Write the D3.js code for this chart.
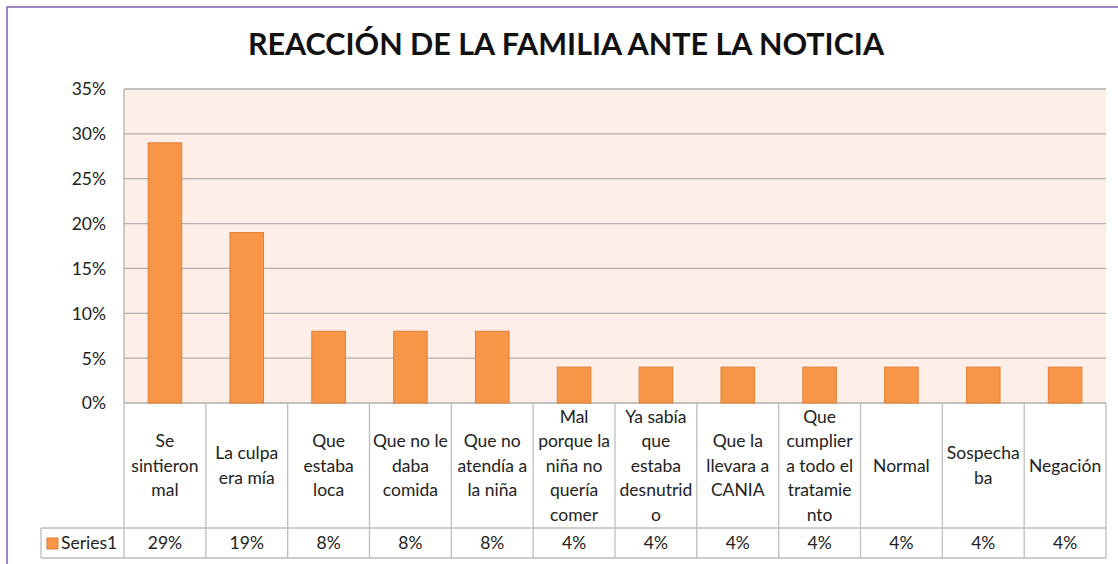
<!DOCTYPE html>
<html><head><meta charset="utf-8">
<script src="https://cdn.jsdelivr.net/npm/d3@7"></script>
<style>body{margin:0;background:#fff}svg{display:block}text{font-family:Lato,"Open Sans",sans-serif}</style>
</head><body><svg id="c" width="1118" height="564"></svg>
<script>
const title = "REACCIÓN DE LA FAMILIA ANTE LA NOTICIA";
const seriesName = "Series1";
const categories = [
  ["Se","sintieron","mal"],
  ["La culpa","era mía"],
  ["Que","estaba","loca"],
  ["Que no le","daba","comida"],
  ["Que no","atendía a","la niña"],
  ["Mal","porque la","niña no","quería","comer"],
  ["Ya sabía","que","estaba","desnutrid","o"],
  ["Que la","llevara a","CANIA"],
  ["Que","cumplier","a todo el","tratamie","nto"],
  ["Normal"],
  ["Sospecha","ba"],
  ["Negación"]
];
const values = [0.29, 0.19, 0.08, 0.08, 0.08, 0.04, 0.04, 0.04, 0.04, 0.04, 0.04, 0.04];
const valueLabels = ["29%","19%","8%","8%","8%","4%","4%","4%","4%","4%","4%","4%"];
const yTicks = [0, 0.05, 0.10, 0.15, 0.20, 0.25, 0.30, 0.35];

const svg = d3.select("#c");
const L = 124, R = 1106, T = 89, B = 403;
const catBottom = 528, valBottom = 558, legLeft = 41;
const fs = 17.5;

svg.append("rect").attr("x",7).attr("y",7).attr("width",1125).attr("height",600)
  .attr("fill","none").attr("stroke","#7F62A8").attr("stroke-width",1.5);

svg.append("text").attr("x",566).attr("y",55).attr("text-anchor","middle")
  .attr("font-size",30.5).attr("font-weight",700).attr("fill","#111").text(title);

const x = d3.scaleBand().domain(d3.range(categories.length)).range([L,R]).paddingInner(0.59).paddingOuter(0.295);
const xc = d3.scaleBand().domain(d3.range(categories.length)).range([L,R]);
const y = d3.scaleLinear().domain([0,0.35]).range([B,T]);

svg.append("rect").attr("x",L).attr("y",T).attr("width",R-L).attr("height",B-T).attr("fill","#FDEEE8");

const yAxis = d3.axisLeft(y).tickValues(yTicks).tickFormat(d3.format(".0%")).tickSize(0).tickPadding(18);
const ga = svg.append("g").attr("transform",`translate(${L},0)`).call(yAxis);
ga.select(".domain").remove();
ga.selectAll("text").attr("font-size",fs).attr("fill","#222").attr("font-family","Lato, sans-serif").attr("dy","0.34em");

svg.append("g").selectAll("line").data(yTicks).join("line")
  .attr("x1",L).attr("x2",R).attr("y1",d=>y(d)).attr("y2",d=>y(d))
  .attr("stroke","#AFAFAF").attr("stroke-width",1.3);
svg.append("line").attr("x1",L).attr("x2",L).attr("y1",T).attr("y2",B).attr("stroke","#AFAFAF").attr("stroke-width",1.3);

svg.append("g").selectAll("rect").data(values).join("rect")
  .attr("x",(d,i)=>x(i)).attr("width",x.bandwidth())
  .attr("y",d=>y(d)).attr("height",d=>B-y(d))
  .attr("fill","#F79646").attr("stroke","#E07F35").attr("stroke-width",1);

const grid = svg.append("g").attr("stroke","#BDBDBD").attr("stroke-width",1.3);
grid.append("line").attr("x1",legLeft).attr("x2",R).attr("y1",catBottom).attr("y2",catBottom);
grid.append("line").attr("x1",legLeft).attr("x2",R).attr("y1",valBottom).attr("y2",valBottom);
grid.append("line").attr("x1",legLeft).attr("x2",legLeft).attr("y1",catBottom).attr("y2",valBottom);
grid.selectAll("line.v").data(d3.range(categories.length+1)).join("line").attr("class","v")
  .attr("x1",i=>L+i*xc.bandwidth()).attr("x2",i=>L+i*xc.bandwidth())
  .attr("y1",B).attr("y2",valBottom);

const lh = 24.5, midY = (B+catBottom)/2;
const cg = svg.append("g").attr("font-size",fs).attr("fill","#222").attr("text-anchor","middle");
categories.forEach((lines,i)=>{
  const cx = xc(i)+xc.bandwidth()/2;
  const t = cg.append("text").attr("x",cx).attr("fill","#222");
  lines.forEach((ln,j)=>{
    t.append("tspan").attr("x",cx).attr("y",midY+(j-(lines.length-1)/2)*lh+6).text(ln);
  });
});
svg.append("g").selectAll("text").data(valueLabels).join("text")
  .attr("x",(d,i)=>xc(i)+xc.bandwidth()/2).attr("y",(catBottom+valBottom)/2+6)
  .attr("text-anchor","middle").attr("font-size",fs).attr("fill","#222").text(d=>d);

svg.append("rect").attr("x",47).attr("y",538).attr("width",11).attr("height",11)
  .attr("fill","#F79646").attr("stroke","#E07F35");
svg.append("text").attr("x",61).attr("y",549).attr("font-size",fs).attr("fill","#222").text(seriesName);
</script></body></html>
